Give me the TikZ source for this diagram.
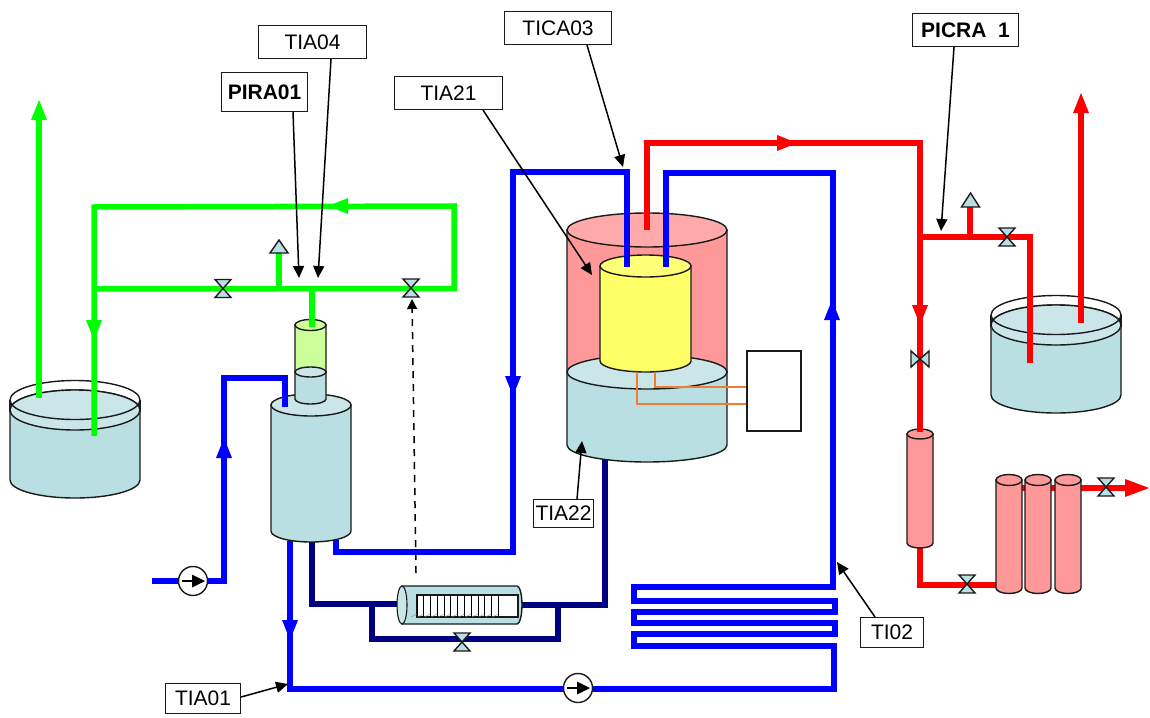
\documentclass[tikz,border=0pt]{standalone}
\usepackage{fontspec}
\setmainfont{Liberation Sans}
\usetikzlibrary{arrows.meta}
\definecolor{liq}{HTML}{BADFE2}
\definecolor{liqtop}{HTML}{CBE6E9}
\definecolor{pink}{HTML}{FF9999}
\definecolor{pinktop}{HTML}{FFAAAA}
\definecolor{yel}{HTML}{FFFF66}
\definecolor{yeltop}{HTML}{FFFF77}
\definecolor{lime}{HTML}{CCFF99}
\definecolor{pgreen}{HTML}{00FF00}
\definecolor{pblue}{HTML}{0000FF}
\definecolor{pnavy}{HTML}{000080}
\definecolor{pred}{HTML}{FF0000}
\definecolor{oran}{HTML}{ED7D31}
\definecolor{edge}{HTML}{1A1A1A}
\tikzset{
  pipe/.style={line width=5.5pt,line join=miter},
  gpipe/.style={pipe,draw=pgreen},
  bpipe/.style={pipe,draw=pblue},
  npipe/.style={pipe,draw=pnavy},
  rpipe/.style={pipe,draw=pred},
  vessel/.style={draw=edge,line width=1.4pt},
  tag/.style={draw=edge,line width=1.1pt,fill=white,inner sep=0pt,font=\fontsize{21}{24}\selectfont},
  lead/.style={line width=1.5pt,-{Triangle[length=12pt,width=11pt]}},
  wire/.style={draw=oran,line width=1.4pt},
}
% cx, ytop, ybot, rx, ry, body, top
\newcommand{\cylin}[7]{%
  \path[vessel,fill=#6] (#1-#4,#2) -- (#1-#4,#3)
    arc[start angle=180,end angle=360,x radius=#4 pt,y radius=#5 pt] -- (#1+#4,#2) -- cycle;
  \path[vessel,fill=#7] (#1,#2) ellipse[x radius=#4 pt,y radius=#5 pt];
}
% x, y, rotation
\newcommand{\vlv}[3]{%
  \path[vessel,fill=liq,shift={(#1,#2)},rotate=#3] (-8,-9) -- (8,-9) -- (-8,9) -- (8,9) -- cycle;
}
% vent triangle: x, apex y, base y
\newcommand{\vent}[3]{%
  \path[vessel,fill=liq] (#1,#2) -- (#1+9,#3) -- (#1-9,#3) -- cycle;
}
% pipe arrowhead: tip x, tip y, rotation, colour
\newcommand{\head}[4]{%
  \fill[#4,shift={(#1,#2)},rotate=#3] (0,0) -- (8,-20) -- (-8,-20) -- cycle;
}
% pump
\newcommand{\pmp}[2]{%
  \path[vessel,fill=white] (#1,#2) circle[radius=14.5pt];
  \draw[line width=1.4pt] (#1-11,#2) -- (#1,#2);
  \fill (#1+12,#2) -- (#1-1,#2-6.5) -- (#1-1,#2+6.5) -- cycle;
}
\begin{document}
\begin{tikzpicture}[x=1pt,y=-1pt]
\useasboundingbox (0,0) rectangle (1150,717);

% ---- pipe junction coordinates
\foreach \n/\x/\y in {
  ga/39/398, gb/39/112,
  gc/94/436, gd/94/207, ge/454/206, gf/454/288.5, gg/94/289,
  gh/312/289, gi/312/327, gj/279/289, gk/279/252,
  ba/152/581, bb/224/581, bc/224/378, bd/285/378, be/285/407,
  bf/290/541, bg/290/689, bh/834/689, bi/834/646, bj/634/646, bk/634/634,
  bl/835/634, bm/835/623, bn/634/623, bo/634/612, bp/835/612, bq/835/601,
  br/634/601, bs/634/587, bt/833/587, bu/833/173, bv/666/173, bw/666/267,
  ca/336/540, cb/336/552, cc/513/552, cd/513/172, ce/627/172, cf/627/267,
  na/312/540, nb/312/604, nc/398/604, nd/520/605, ne/605/605, nf/605/458,
  ng/372/604, nh/372/639, ni/558/639, nj/558/605,
  ra/647/230, rb/647/143, rc/920/143, rd/920/432,
  re/920/237, rf/1030/237, rg/1030/363, rh/970/237, ri/970/206,
  rj/1081/323, rk/1081/110,
  rl/920/546, rm/920/585, rn/996/585, ro/1081/488, rp/1128/488,
  rq/1022/488, rr/1025/488, rs/1051/488, rt/1055/488}
  {\coordinate (\n) at (\x,\y);}

% ---- left tank
\path[vessel,fill=liq] (10,410) -- (10,480) arc[start angle=180,end angle=360,x radius=65pt,y radius=18pt] -- (140,410) arc[start angle=0,end angle=180,x radius=65pt,y radius=20pt] -- cycle;
\path[vessel,fill=liqtop] (75,410) ellipse[x radius=65pt,y radius=20pt];
\draw[vessel] (10,400) -- (10,412) (140,400) -- (140,412);
\draw[vessel] (75,400) ellipse[x radius=65pt,y radius=19.5pt];

% ---- right tank
\path[vessel,fill=liq] (991,325) -- (991,395) arc[start angle=180,end angle=360,x radius=65pt,y radius=18pt] -- (1121,325) arc[start angle=0,end angle=180,x radius=65pt,y radius=20pt] -- cycle;
\path[vessel,fill=liqtop] (1056,325) ellipse[x radius=65pt,y radius=20pt];
\draw[vessel] (991,315) -- (991,327) (1121,315) -- (1121,327);
\draw[vessel] (1056,315) ellipse[x radius=65pt,y radius=19.5pt];

% ---- under-vessel pipes
\draw[npipe] (na) -- (nb) -- (nc);
\draw[npipe] (nd) -- (ne) -- (nf);
\draw[npipe] (ng) -- (nh) -- (ni) -- (nj);
\draw[bpipe] (bf) -- (bg) -- (bh) -- (bi) -- (bj) -- (bk) -- (bl) -- (bm) -- (bn) -- (bo) -- (bp) -- (bq) -- (br) -- (bs) -- (bt) -- (bu) -- (bv) -- (bw);
\draw[bpipe] (ca) -- (cb) -- (cc) -- (cd) -- (ce) -- (cf);
\draw[bpipe] (ba) -- (bb) -- (bc) -- (bd) -- (be);

% ---- column on the left
\cylin{311}{405}{531}{40}{11}{liq}{liqtop}
\cylin{310.5}{325}{372}{15.5}{5.5}{lime}{lime}
\cylin{310.5}{372}{399}{15.5}{5}{liq}{liqtop}
\draw[bpipe] (bd) -- (be);

% ---- main vessel
\cylin{647}{230}{372}{80}{17}{pink}{pinktop}
\cylin{647}{372}{445}{80}{17}{liq}{liqtop}
\cylin{645.5}{266}{361}{45.5}{11}{yel}{yeltop}
\node[draw=edge,line width=1.5pt,fill=white,minimum width=54pt,minimum height=80pt,inner sep=0pt,anchor=north west] (box) at (746,350) {};
\draw[wire] (655,372) -- (655,387) -- (box.west |- 0,387);
\draw[wire] (637,372) -- (637,404) -- (box.west |- 0,404);
\draw[bpipe] (cd) -- (ce) -- (cf);
\draw[bpipe] (bu) -- (bv) -- (bw);

% ---- green circuit
\draw[gpipe] (ga) -- (gb);
\draw[gpipe] (gc) -- (gd) -- (ge) -- (gf) -- (gg);
\draw[gpipe] (gh) -- (gi);
\draw[gpipe] (gj) -- (gk);
\vent{279}{240}{253}
\vlv{223}{288.5}{0}
\vlv{411}{288}{0}
\head{39}{100}{180}{pgreen}
\head{328}{206}{-90}{pgreen}
\head{94}{340}{0}{pgreen}

% ---- blue arrowheads, pumps, valve
\head{224}{438}{180}{pblue}
\head{290}{640}{0}{pblue}
\head{513}{396}{0}{pblue}
\head{832}{300}{180}{pblue}
\pmp{193}{581}
\pmp{578}{688}
\vlv{462}{642}{0}

% ---- exchanger
\path[vessel,fill=liq] (402,586) -- (517,586) arc[start angle=90,end angle=-90,x radius=5pt,y radius=19pt] -- (402,624) -- cycle;
\path[draw=edge,line width=1.1pt,fill=white] (417,595) rectangle (518,617);
\foreach \k in {0,...,12}{
  \draw[line width=.8pt] (417+\k*6.77,595) -- (417+\k*6.77,617);
  \draw[line width=.35pt,draw=gray] (417+\k*6.77-6,617) -- (417+\k*6.77,614);
}
\path[draw=edge,line width=1.1pt,fill=liqtop] (402,605) ellipse[x radius=5pt,y radius=19pt];

% ---- red circuit
\draw[rpipe] (ra) -- (rb) -- (rc) -- (rd);
\draw[rpipe] (re) -- (rf) -- (rg);
\draw[rpipe] (rh) -- (ri);
\draw[rpipe] (rj) -- (rk);
\draw[rpipe] (rl) -- (rm) -- (rn);
\draw[rpipe] (rq) -- (rr);
\draw[rpipe] (rs) -- (rt);
\draw[rpipe] (ro) -- (rp);
\vent{970.5}{193}{207}
\vlv{1007}{237}{0}
\vlv{920}{359}{90}
\vlv{967}{584}{0}
\vlv{1106}{487}{0}
\head{1081}{93}{180}{pred}
\head{797}{143}{90}{pred}
\head{920}{325}{0}{pred}
\fill[pred] (1149,488) -- (1125,479) -- (1125,497) -- cycle;
\cylin{920}{434}{543}{13}{5}{pink}{pink}
\draw[rpipe] (920,420) -- (rd);
\cylin{1009}{480}{588}{13}{5.5}{pink}{pink}
\cylin{1038}{480}{588}{13}{5.5}{pink}{pink}
\cylin{1068}{480}{588}{13}{5.5}{pink}{pink}

% ---- dashed signal
\coordinate (sigS) at (416,573);
\coordinate (sigE) at (412,299);
\draw[line width=1.5pt,dash pattern=on 7pt off 6pt,-{Triangle[length=10pt,width=10pt]}] (sigS) -- (sigE);

% ---- tags
\node[tag,anchor=north west,minimum width=107pt,minimum height=33pt] (tica) at (504,11) {TICA03};
\node[tag,anchor=north west,minimum width=106pt,minimum height=33pt,font=\fontsize{21}{24}\selectfont\bfseries] (picra) at (912,13) {PICRA\ \ 1};
\node[tag,anchor=north west,minimum width=108pt,minimum height=33pt] (tia04) at (258,25) {TIA04};
\node[tag,anchor=north west,minimum width=86pt,minimum height=39pt,font=\fontsize{21}{24}\selectfont\bfseries] (pira) at (221,72) {PIRA01};
\node[tag,anchor=north west,minimum width=108pt,minimum height=33pt] (tia21) at (394,76) {TIA21};
\node[tag,anchor=north west,minimum width=60pt,minimum height=28pt] (tia22) at (533,499) {TIA22};
\node[tag,anchor=north west,minimum width=75pt,minimum height=30pt] (tia01) at (165,683) {TIA01};
\node[tag,anchor=north west,minimum width=63pt,minimum height=30pt] (ti02) at (860,617) {TI02};

% ---- tag leaders
\foreach \n/\x/\y in {p1/299/278, p2/318/278, p3/592/275, p4/623/167, p5/941/231, p6/582/441, p7/288/684, p8/837/562}
  {\coordinate (\n) at (\x,\y);}
\draw[lead] (pira.south -| 293,0) -- (p1);
\draw[lead] (tia04.south -| 331,0) -- (p2);
\draw[lead] (tia21.south -| 483,0) -- (p3);
\draw[lead] (tica.south -| 587,0) -- (p4);
\draw[lead] (picra.south -| 954,0) -- (p5);
\draw[lead] (tia22.north -| 577,0) -- (p6);
\draw[lead] (tia01.east |- 0,697) -- (p7);
\draw[lead] (ti02.north -| 875,0) -- (p8);
\end{tikzpicture}
\end{document}
